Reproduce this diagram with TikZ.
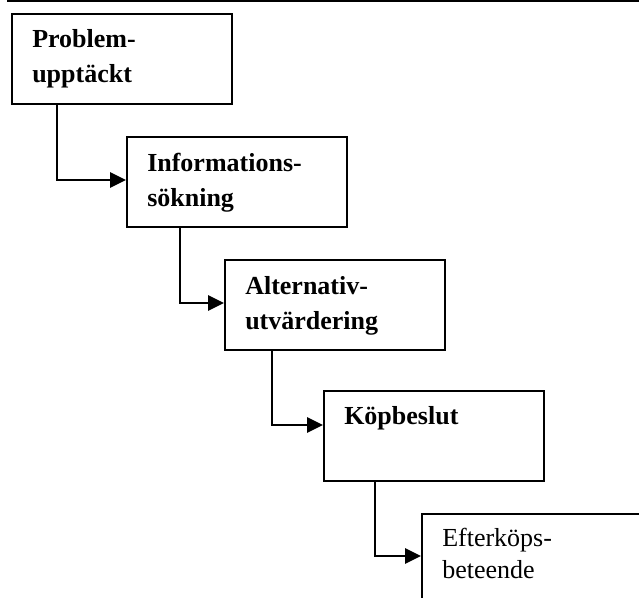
\documentclass[tikz,border=0pt]{standalone}
\usepackage{fontspec}
\setmainfont{Liberation Serif}
\usepackage{tikz}
\usetikzlibrary{calc}
\usetikzlibrary{arrows.meta,positioning}

\tikzset{
  stepbox/.style={draw, line width=1.5pt, rectangle, anchor=north west,
    minimum width=165pt, minimum height=67.5pt, inner sep=0pt},
  steptext/.style={anchor=base west, align=left, inner sep=0pt,
    font=\bfseries\fontsize{19.5pt}{26.25pt}\selectfont},
  flow/.style={line width=1.5pt, -{Triangle[length=12pt,width=11.5pt]}}
}

\begin{document}
\begin{tikzpicture}[x=0.75pt,y=-0.75pt]
    \useasboundingbox (0,0) rectangle (639,598);
    \clip (0,0) rectangle (639,598);
    %% \draw[help lines] (0,0) grid (639,598);
    \draw[line width=1.9pt] (7,1) -- (645,1);
    \node[stepbox] (prob) at (11,13) {};
    \node[stepbox] (info) at (126,136) {};
    \node[stepbox] (alt)  at (224,259) {};
    \node[stepbox] (kop)  at (323,390) {};
    \node[stepbox] (efter) at (421,513) {};
    %% base anchor sits on the last line
    \node[steptext] (probT) at ($(prob.north west)+(21,70)$) {Problem-\\upptäckt};
    \node[steptext] (infoT) at ($(info.north west)+(21,71)$) {Informations-\\sökning};
    \node[steptext] (altT)  at ($(alt.north west)+(21,71)$) {Alternativ-\\utvärdering};
    \node[steptext] (kopT)  at ($(kop.north west)+(21,35)$) {Köpbeslut};
    \node[steptext, font=\fontsize{19.5pt}{24pt}\selectfont] (efterT)
      at ($(efter.north west)+(21,65)$) {Efterköps-\\beteende};
    \draw[flow] ($(prob.south west)+(46,0)$) |- ($(info.north west)+(0,44)$);
    \draw[flow] ($(info.south west)+(54,0)$) |- ($(alt.north west)+(0,44)$);
    \draw[flow] ($(alt.south west)+(48,0)$) |- ($(kop.north west)+(0,35)$);
    \draw[flow] ($(kop.south west)+(52,0)$) |- ($(efter.north west)+(0,43)$);
  \end{tikzpicture}
\end{document}
